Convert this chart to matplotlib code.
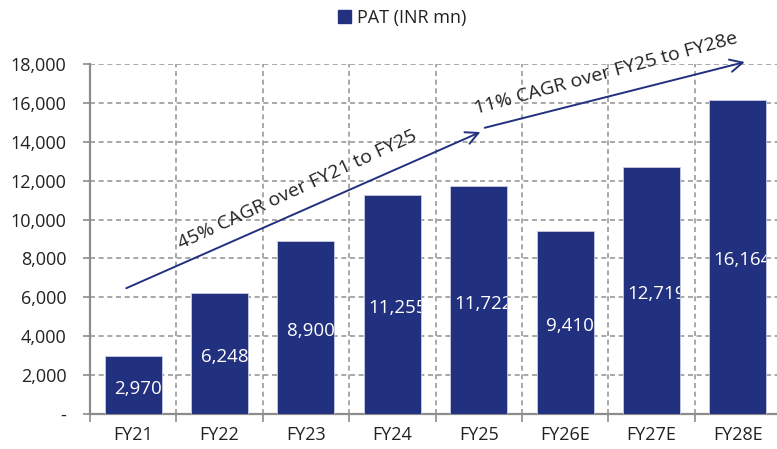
import matplotlib
matplotlib.use("Agg")
import matplotlib.pyplot as plt
from matplotlib.ticker import FuncFormatter, MultipleLocator, FixedLocator
from matplotlib.patches import Patch

plt.rcParams['font.family'] = ['Open Sans', 'DejaVu Sans']

# PAT history and estimates
years = ["FY21", "FY22", "FY23", "FY24", "FY25", "FY26E", "FY27E", "FY28E"]
pat = [2970, 6248, 8900, 11255, 11722, 9410, 12719, 16164]
series_name = "PAT (INR mn)"

cagr_notes = ["45% CAGR over FY21 to FY25", "11% CAGR over FY25 to FY28e"]

BAR = "#22317f"
GRID = "#9a9a9a"
AXIS = "#8c8c8c"
TEXT = "#222222"

fig = plt.figure(figsize=(7.77, 4.49), dpi=100)
ax = fig.add_axes([90 / 777, 1 - 414 / 449, 691 / 777, 350 / 449])

x = list(range(len(years)))
bars = ax.bar(x, pat, width=0.66, color=BAR, edgecolor="#c9cde3",
              linewidth=0.6, zorder=3)

ax.set_xlim(-0.5, len(years) - 0.5)
ax.set_ylim(0, 18000)

# y axis
ax.yaxis.set_major_locator(MultipleLocator(2000))
ax.yaxis.set_major_formatter(FuncFormatter(lambda v, p: "-" if v == 0 else f"{v:,.0f}"))
ax.tick_params(axis="y", which="major", length=5, width=1.2, color=AXIS,
               labelsize=13, labelcolor=TEXT, pad=12)

# x axis: labels at centres, tick marks/grid at category boundaries
ax.set_xticks(x)
ax.set_xticklabels(years)
ax.xaxis.set_minor_locator(FixedLocator([i - 0.5 for i in range(len(years) + 1)]))
ax.tick_params(axis="x", which="major", length=0, labelsize=13,
               labelcolor=TEXT, pad=9)
ax.tick_params(axis="x", which="minor", length=6, width=1.2, color=AXIS)

grid_style = dict(color=GRID, linewidth=1.2, linestyle=(0, (3, 2.2)))
ax.grid(axis="y", which="major", **grid_style)
ax.grid(axis="x", which="minor", **grid_style)
ax.set_axisbelow(True)

for side in ("top", "right"):
    ax.spines[side].set_visible(False)
for side in ("left", "bottom"):
    ax.spines[side].set_color(AXIS)
    ax.spines[side].set_linewidth(1.6)

# value labels inside bars, clipped to the bar
for rect, v in zip(bars, pat):
    t = ax.annotate(f"{v:,.0f}", xy=(rect.get_x() + rect.get_width() / 2, v / 2),
                    xytext=(3.5, -2.5), textcoords="offset points",
                    ha="center", va="center", color="white", fontsize=13.5,
                    zorder=4)
    t.set_clip_path(rect)

# CAGR arrows and captions
arrow_kw = dict(arrowstyle="->,head_length=0.9,head_width=0.45",
                color=BAR, lw=1.4, shrinkA=0, shrinkB=0)
ax.annotate("", xy=(4.02, 14500), xytext=(-0.08, 6470),
            arrowprops=arrow_kw, annotation_clip=False, zorder=5)
ax.annotate("", xy=(7.08, 18100), xytext=(4.07, 14720),
            arrowprops=arrow_kw, annotation_clip=False, zorder=5)

ax.text(1.90, 11550, cagr_notes[0], rotation=24.8, rotation_mode="anchor",
        ha="center", va="center", fontsize=14, color=TEXT, zorder=6)
ax.text(5.47, 17500, cagr_notes[1], rotation=15.2, rotation_mode="anchor",
        ha="center", va="center", fontsize=14, color=TEXT, zorder=6,
        clip_on=False)

# legend
fig.legend(handles=[Patch(facecolor=BAR, edgecolor=BAR)], labels=[series_name],
           loc="center", bbox_to_anchor=(402 / 777, 1 - 18 / 449),
           frameon=False, fontsize=13, handlelength=0.75, handleheight=0.75,
           handletextpad=0.3, labelcolor=TEXT)

fig.savefig("out.png", dpi=100)
